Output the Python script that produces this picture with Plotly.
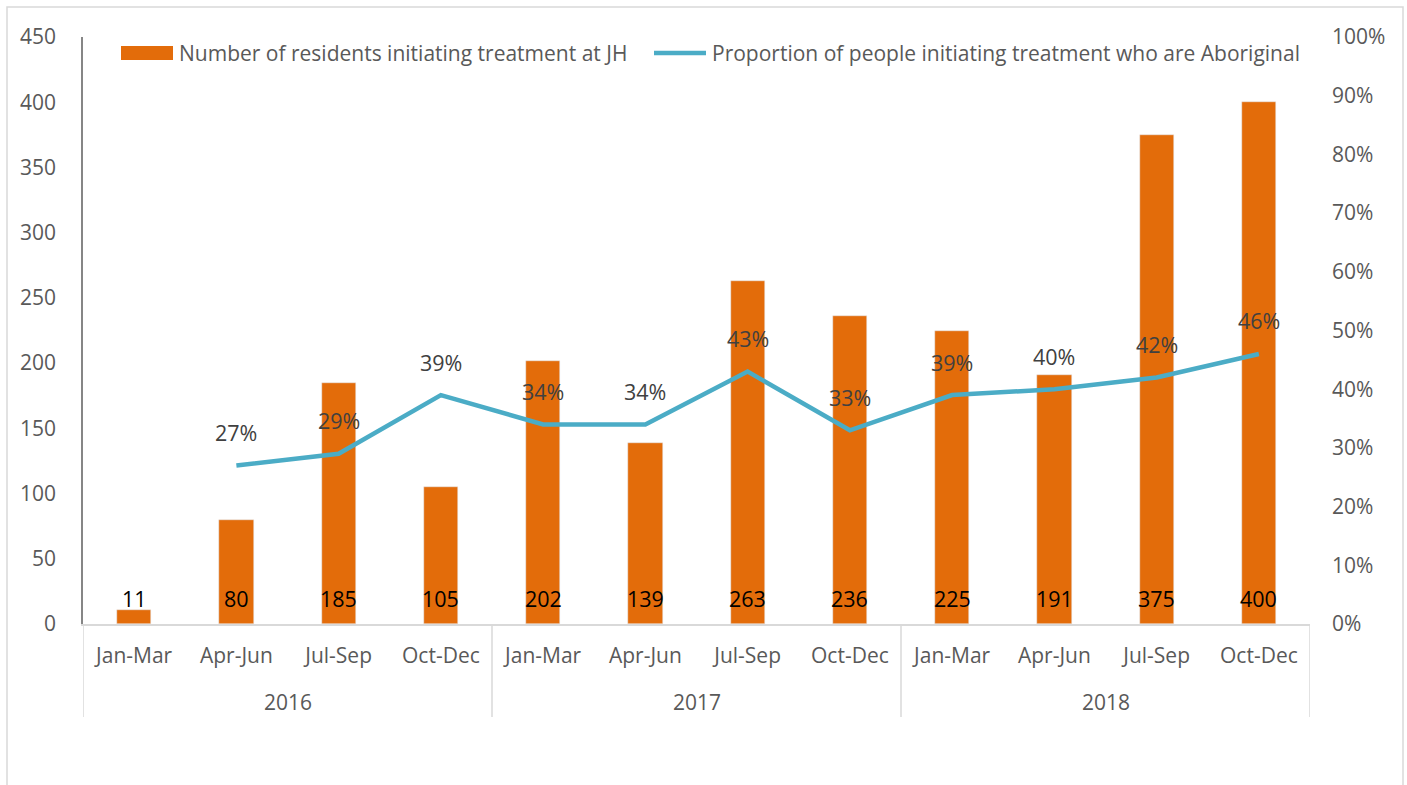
import plotly.graph_objects as go

# Quarterly treatment initiations, 2016-2018
years = ["2016", "2017", "2018"]
quarters = ["Jan-Mar", "Apr-Jun", "Jul-Sep", "Oct-Dec"]
residents = [11, 80, 185, 105, 202, 139, 263, 236, 225, 191, 375, 400]
aboriginal_share = [None, 0.27, 0.29, 0.39, 0.34, 0.34, 0.43, 0.33, 0.39, 0.40, 0.42, 0.46]

bar_name = "Number of residents initiating treatment at JH"
line_name = "Proportion of people initiating treatment who are Aboriginal"

BAR_COLOR = "#E36C0A"
LINE_COLOR = "#4BACC6"
TICK_COLOR = "#595959"
FONT = "Open Sans"
FS = 21

# plot-area geometry in pixels
W, H = 1407, 785
L, R, T, B = 83, 1310, 37, 624
PW, PH = R - L, B - T


def px_x(px):
    return (px - L) / PW


def px_y(py):
    return (B - py) / PH


ticktext = [q for _ in years for q in quarters]
xs = list(range(len(residents)))

fig = go.Figure()
fig.add_trace(go.Bar(
    x=xs, y=residents, name=bar_name, marker_color=BAR_COLOR,
    width=0.335, showlegend=False, yaxis="y",
))
fig.add_trace(go.Scatter(
    x=xs, y=aboriginal_share, name=line_name, mode="lines",
    line=dict(color=LINE_COLOR, width=4.5), showlegend=False,
    yaxis="y2", connectgaps=False,
))

annotations = []
# bar value labels sitting at the base of each bar
for i, v in enumerate(residents):
    annotations.append(dict(
        x=i, y=0, xref="x", yref="y", text=str(v), showarrow=False,
        yanchor="middle", yshift=26, font=dict(family=FONT, size=21.5, color="#000000"),
    ))
# percentage labels above the line
for i, v in enumerate(aboriginal_share):
    if v is None:
        continue
    annotations.append(dict(
        x=i, y=v, xref="x", yref="y2", text=f"{round(v * 100)}%", showarrow=False,
        yanchor="middle", yshift=33, font=dict(family=FONT, size=21.5, color="#404040"),
    ))
# year group labels
for g, yr in enumerate(years):
    annotations.append(dict(
        x=g * 4 + 1.5, y=px_y(702), xref="x", yref="paper", text=yr, showarrow=False,
        yanchor="middle", font=dict(family=FONT, size=FS, color=TICK_COLOR),
    ))
# legend text
annotations.append(dict(
    x=px_x(177), y=px_y(53), xref="paper", yref="paper", text=bar_name, showarrow=False,
    xanchor="left", yanchor="middle", font=dict(family=FONT, size=FS, color=TICK_COLOR),
))
annotations.append(dict(
    x=px_x(710), y=px_y(53), xref="paper", yref="paper", text=line_name, showarrow=False,
    xanchor="left", yanchor="middle", font=dict(family=FONT, size=FS, color=TICK_COLOR),
))

shapes = []
# group dividers below the category axis
for g in range(len(years) + 1):
    shapes.append(dict(
        type="line", xref="x", yref="paper", x0=g * 4 - 0.5, x1=g * 4 - 0.5,
        y0=0, y1=px_y(717), line=dict(color="#D9D9D9", width=1.5),
    ))
# legend swatches
shapes.append(dict(
    type="rect", xref="paper", yref="paper", x0=px_x(121), x1=px_x(173),
    y0=px_y(60), y1=px_y(46), fillcolor=BAR_COLOR, line=dict(width=0),
))
shapes.append(dict(
    type="line", xref="paper", yref="paper", x0=px_x(654), x1=px_x(706),
    y0=px_y(53), y1=px_y(53), line=dict(color=LINE_COLOR, width=4.5),
))
# chart frame
shapes.append(dict(
    type="rect", xref="paper", yref="paper", x0=px_x(7), x1=px_x(1403),
    y0=px_y(800), y1=px_y(7), line=dict(color="#D9D9D9", width=1.5),
    fillcolor="rgba(0,0,0,0)", layer="below",
))

fig.update_layout(
    width=W, height=H,
    margin=dict(l=L, r=W - R, t=T, b=H - B, pad=0),
    paper_bgcolor="white", plot_bgcolor="white",
    font=dict(family=FONT, size=FS, color=TICK_COLOR),
    bargap=0,
    xaxis=dict(
        range=[-0.5, 11.5], tickmode="array", tickvals=xs, ticktext=ticktext,
        showgrid=False, zeroline=False, showline=True, linecolor="#D9D9D9", linewidth=1.5,
        ticks="", ticklabelstandoff=12, tickfont=dict(family=FONT, size=FS, color=TICK_COLOR),
    ),
    yaxis=dict(
        range=[0, 450], dtick=50, showgrid=False, zeroline=False,
        showline=True, linecolor="#868686", linewidth=1.5,
        ticks="", ticklabelstandoff=21, tickfont=dict(family=FONT, size=FS, color=TICK_COLOR),
    ),
    yaxis2=dict(
        range=[0, 1], dtick=0.1, tickformat=".0%", overlaying="y", side="right",
        showgrid=False, zeroline=False, showline=False,
        ticks="", ticklabelstandoff=21, tickfont=dict(family=FONT, size=FS, color=TICK_COLOR),
    ),
    annotations=annotations,
    shapes=shapes,
    showlegend=False,
)

fig.write_html("out.html")
